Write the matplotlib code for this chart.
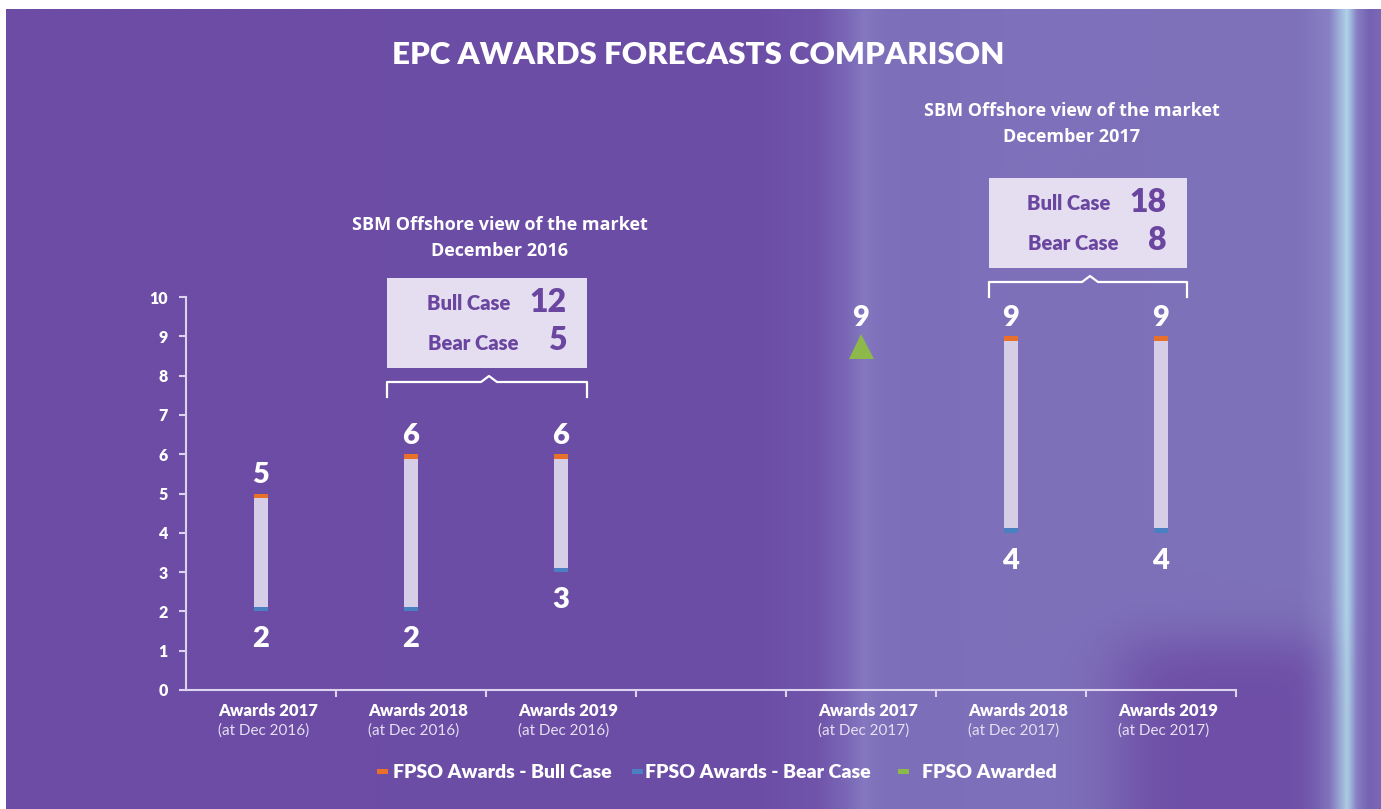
import numpy as np
import matplotlib
matplotlib.use("Agg")
import matplotlib.pyplot as plt
from matplotlib.patches import Rectangle
from matplotlib.lines import Line2D

# ---------------- data ----------------
categories = ['Awards 2017', 'Awards 2018', 'Awards 2019', '',
              'Awards 2017', 'Awards 2018', 'Awards 2019']
sub_labels = ['(at Dec 2016)', '(at Dec 2016)', '(at Dec 2016)', '',
              '(at Dec 2017)', '(at Dec 2017)', '(at Dec 2017)']
bear_case = [2, 2, 3, None, None, 4, 4]
bull_case = [5, 6, 6, None, None, 9, 9]
awarded = [None, None, None, None, 9, None, None]
yticks = list(range(0, 11))
box_2016 = {'title': 'SBM Offshore view of the market\nDecember 2016', 'bull': 12, 'bear': 5}
box_2017 = {'title': 'SBM Offshore view of the market\nDecember 2017', 'bull': 18, 'bear': 8}
legend_labels = ['FPSO Awards - Bull Case', 'FPSO Awards - Bear Case', 'FPSO Awarded']

# ---------------- style ----------------
ORANGE = '#E8702A'
BLUE = '#4A7FC1'
GREEN = '#8DB84A'
BAR = '#D6CEE6'
BOXC = '#E4DEF0'
PURPLE_TXT = '#6A46A0'
AXC = '#DCD3EE'
FONT = 'Lato'

W, H = 1381, 809
fig = plt.figure(figsize=(W / 100, H / 100), dpi=100)
fig.patch.set_facecolor('white')

# background image
bg = fig.add_axes([6 / W, 0, 1 - 6 / W, 1 - 9 / H])
bg.set_axis_off()
xs = np.linspace(0, W, 700)
keys_x = [0, 760, 815, 845, 862, 880, 920, 1000, 1300, 1330, 1348, 1358, 1370, 1381]
keys_c = np.array([
    (108, 76, 164), (108, 78, 166), (112, 84, 170), (122, 104, 182), (132, 120, 192),
    (126, 112, 186), (124, 110, 184), (126, 112, 186), (126, 114, 186), (136, 128, 196),
    (175, 212, 232), (135, 125, 195), (118, 98, 178), (122, 104, 182)], dtype=float)
prof = np.stack([np.interp(xs, keys_x, keys_c[:, i]) for i in range(3)], axis=-1)
ys = np.linspace(0, 1, 300)
img = np.repeat(prof[None, :, :], len(ys), axis=0)
X, Y = np.meshgrid(xs, ys * H)
mask = 1 / (1 + np.exp(-(Y - 640) / 15)) * 1 / (1 + np.exp(-(X - 1120) / 20)) * (1 / (1 + np.exp((X - 1320) / 10)))
dark = np.array([110, 78, 166], dtype=float)
img = img * (1 - mask[..., None]) + dark * mask[..., None]
bg.imshow(img / 255.0, aspect='auto', extent=[0, 1, 0, 1], origin='upper')
bg.set_xlim(0, 1)
bg.set_ylim(0, 1)

# main axes
left, right = 186 / W, 1236 / W
bottom, top = 1 - 690 / H, 1 - 297 / H
ax = fig.add_axes([left, bottom, right - left, top - bottom])
ax.patch.set_alpha(0)
ax.set_xlim(-0.5, len(categories) - 0.5)
ax.set_ylim(0, 10)
for s in ['top', 'right']:
    ax.spines[s].set_visible(False)
for s in ['left', 'bottom']:
    ax.spines[s].set_color(AXC)
    ax.spines[s].set_linewidth(1.5)
ax.set_yticks(yticks)
ax.set_yticklabels([str(v) for v in yticks], fontfamily=FONT, fontweight='heavy',
                   fontsize=11.5, color='white')
ax.tick_params(axis='y', colors=AXC, length=5, width=1.5, pad=8, labelcolor='white')
ax.set_xticks(np.arange(0.5, len(categories), 1.0))
ax.set_xticklabels([])
ax.tick_params(axis='x', colors=AXC, length=5, width=1.5)

bw = 0.093
cap = 0.11
x = np.arange(len(categories))
for i in range(len(categories)):
    lo, hi = bear_case[i], bull_case[i]
    if lo is None or hi is None:
        continue
    ax.bar(x[i], hi - lo, bottom=lo, width=bw, color=BAR, zorder=3)
    ax.bar(x[i], cap, bottom=lo, width=bw, color=BLUE, zorder=4)
    ax.bar(x[i], cap, bottom=hi - cap, width=bw, color=ORANGE, zorder=4)
    ax.text(x[i], hi + 0.14, str(hi), ha='center', va='bottom', fontsize=21,
            fontweight='heavy', color='white', fontfamily=FONT)
    ax.text(x[i], lo - 0.38, str(lo), ha='center', va='top', fontsize=21,
            fontweight='heavy', color='white', fontfamily=FONT)

for i, v in enumerate(awarded):
    if v is None:
        continue
    ax.plot([x[i]], [v - 0.25], marker='^', markersize=18, color=GREEN,
            markeredgewidth=0, zorder=4, clip_on=False)
    ax.text(x[i], v + 0.14, str(v), ha='center', va='bottom', fontsize=21,
            fontweight='heavy', color='white', fontfamily=FONT)

# category labels
for i, (c, s) in enumerate(zip(categories, sub_labels)):
    if not c:
        continue
    xp = left + (x[i] + 0.5) / len(categories) * (right - left)
    fig.text(xp + 7 / W, 1 - 711 / H, c, ha='center', va='center', fontsize=12,
             fontweight='heavy', color='white', fontfamily=FONT)
    fig.text(xp + 3 / W, 1 - 731 / H, s, ha='center', va='center', fontsize=11,
             color='#E6E0F2', fontfamily=FONT)

# title
fig.text(698 / W, 1 - 55 / H, 'EPC AWARDS FORECASTS COMPARISON', ha='center', va='center',
         fontsize=22.5, fontweight='heavy', color='white', fontfamily=FONT)


def view_box(info, cx, title_y, bx0, bx1, by0, by1, bry):
    fig.text(cx / W, 1 - title_y / H, info['title'], ha='center', va='center',
             fontsize=13, fontweight='bold', color='white', fontfamily='Open Sans',
             linespacing=1.55)
    fig.patches.append(Rectangle((bx0 / W, 1 - by1 / H), (bx1 - bx0) / W, (by1 - by0) / H,
                                 transform=fig.transFigure, facecolor=BOXC, edgecolor='none'))
    row1 = by0 + 26
    row2 = by0 + 65
    fig.text((bx1 - 77) / W, 1 - row1 / H, 'Bull Case', ha='right', va='center', fontsize=14.5,
             fontweight='heavy', color=PURPLE_TXT, fontfamily=FONT)
    fig.text((bx1 - 69) / W, 1 - row2 / H, 'Bear Case', ha='right', va='center', fontsize=14.5,
             fontweight='heavy', color=PURPLE_TXT, fontfamily=FONT)
    fig.text((bx1 - 20) / W, 1 - (row1 - 2) / H, str(info['bull']), ha='right', va='center',
             fontsize=23, fontweight='heavy', color=PURPLE_TXT, fontfamily=FONT)
    fig.text((bx1 - 20) / W, 1 - (row2 - 2) / H, str(info['bear']), ha='right', va='center',
             fontsize=23, fontweight='heavy', color=PURPLE_TXT, fontfamily=FONT)
    mid = (bx0 + bx1) / 2 + 2
    px = [bx0, bx0, mid - 8, mid, mid + 8, bx1, bx1]
    py = [bry + 15, bry, bry, bry - 6, bry, bry, bry + 15]
    fig.lines.append(Line2D([p / W for p in px], [1 - p / H for p in py],
                            transform=fig.transFigure, color='white', linewidth=1.6))


view_box(box_2016, 500, 238, 387, 587, 278, 368, 382)
view_box(box_2017, 1072, 124, 989, 1187, 178, 268, 282)

# legend
leg_y = 1 - 772 / H
items = [(ORANGE, legend_labels[0], 377, 393),
         (BLUE, legend_labels[1], 632, 645),
         (GREEN, legend_labels[2], 898, 922)]
for col, lab, sx, tx in items:
    fig.patches.append(Rectangle((sx / W, leg_y - 2 / H), 11 / W, 5 / H,
                                 transform=fig.transFigure, facecolor=col, edgecolor='none'))
    fig.text(tx / W, leg_y, lab, ha='left', va='center', fontsize=14, fontweight='heavy',
             color='white', fontfamily=FONT)

fig.savefig('out.png', dpi=100, facecolor=fig.get_facecolor())
